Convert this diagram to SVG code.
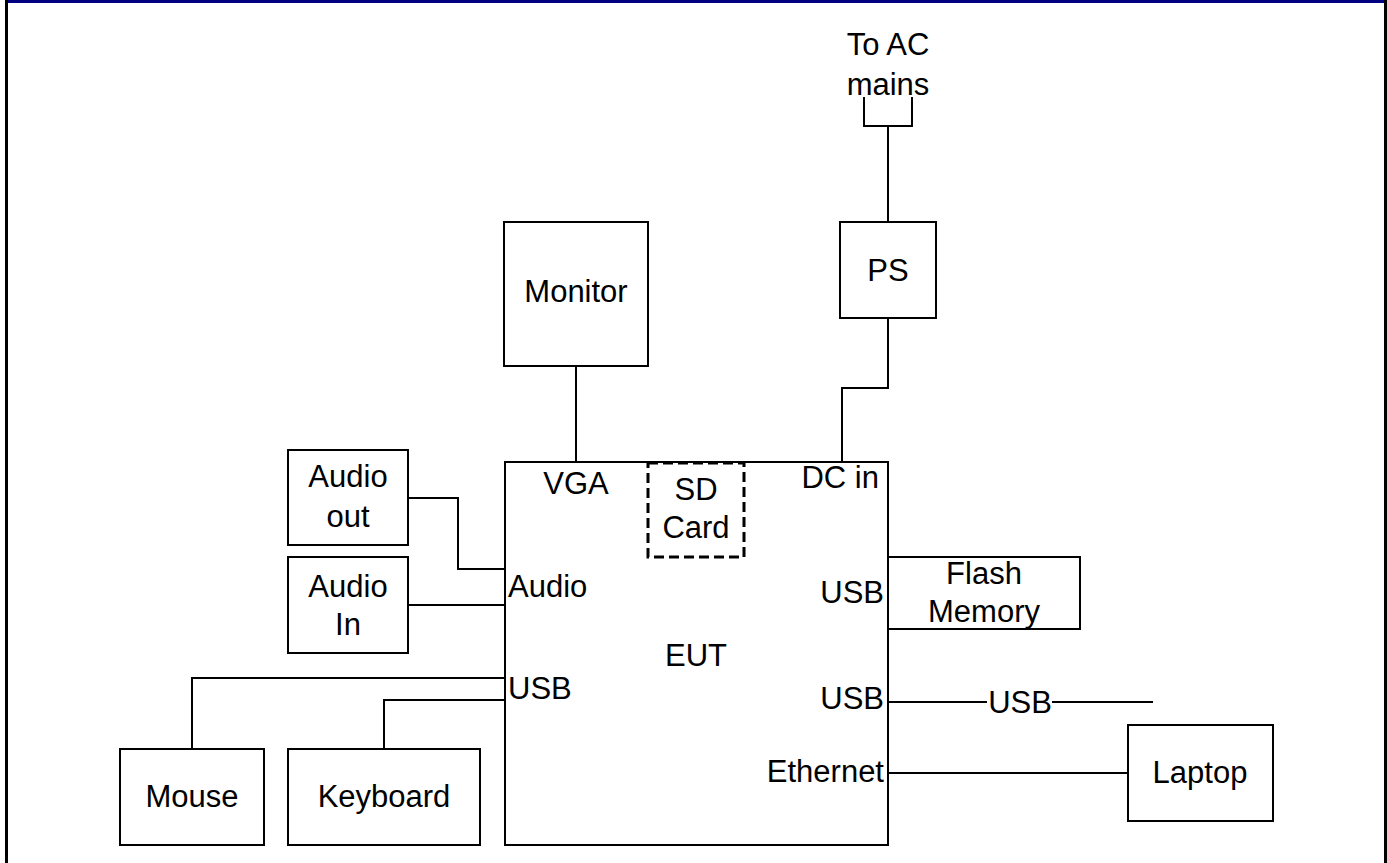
<svg xmlns="http://www.w3.org/2000/svg" width="1387" height="863" viewBox="0 0 1387 863">
<style>
.box{fill:#fff;stroke:#000;stroke-width:2}
.dash{fill:none;stroke:#000;stroke-width:3;stroke-dasharray:10,5}
.wire{fill:none;stroke:#000;stroke-width:2}
text{font-family:"Liberation Sans",Arial,sans-serif;font-size:31px;fill:#000}
.c{text-anchor:middle}
.r{text-anchor:end}
</style>
<rect x="0" y="0" width="1387" height="863" fill="#fff"/>
<g id="frame">
<rect x="5" y="0" width="1382" height="3" fill="#000080"/>
<rect x="5" y="0" width="3" height="863" fill="#000"/>
<rect x="1384" y="0" width="3" height="863" fill="#000"/>
</g>
<g id="connectors">
<path class="wire" d="M864,97 V126 H912 V97 M888,126 V222"/>
<path class="wire" d="M888,318 V388 H842 V462"/>
<path class="wire" d="M576,366 V462"/>
<path class="wire" d="M408,498 H458 V569 H504"/>
<path class="wire" d="M408,605 H504"/>
<path class="wire" d="M192,749 V678 H504"/>
<path class="wire" d="M384,749 V700 H504"/>
<path class="wire" d="M888,702 H987 M1052,702 H1153"/>
<path class="wire" d="M888,773 H1128"/>
<text class="c" x="1020" y="713">USB</text>
</g>
<g id="ac-mains">
<text class="c" x="888" y="55">To AC</text>
<text class="c" x="888" y="95">mains</text>
</g>
<g id="eut">
<rect class="box" x="505" y="462" width="383" height="383"/>
<text class="c" x="576" y="494">VGA</text>
<text class="r" x="879" y="488">DC in</text>
<text x="508" y="597">Audio</text>
<text x="508" y="699">USB</text>
<text class="r" x="884" y="603">USB</text>
<text class="r" x="884" y="709">USB</text>
<text class="r" x="884" y="782">Ethernet</text>
<text class="c" x="696" y="666">EUT</text>
</g>
<g id="sd-card">
<rect class="dash" x="648" y="463" width="96" height="94"/>
<text class="c" x="696" y="500">SD</text>
<text class="c" x="696" y="538">Card</text>
</g>
<g id="monitor">
<rect class="box" x="504" y="222" width="144" height="144"/>
<text class="c" x="576" y="302">Monitor</text>
</g>
<g id="ps">
<rect class="box" x="840" y="222" width="96" height="96"/>
<text class="c" x="888" y="281">PS</text>
</g>
<g id="audio-out">
<rect class="box" x="288" y="450" width="120" height="95"/>
<text class="c" x="348" y="487">Audio</text>
<text class="c" x="348" y="527">out</text>
</g>
<g id="audio-in">
<rect class="box" x="288" y="557" width="120" height="96"/>
<text class="c" x="348" y="597">Audio</text>
<text class="c" x="348" y="635">In</text>
</g>
<g id="mouse">
<rect class="box" x="120" y="749" width="144" height="96"/>
<text class="c" x="192" y="807">Mouse</text>
</g>
<g id="keyboard">
<rect class="box" x="288" y="749" width="192" height="96"/>
<text class="c" x="384" y="807">Keyboard</text>
</g>
<g id="flash-memory">
<rect class="box" x="888" y="557" width="192" height="72"/>
<text class="c" x="984" y="584">Flash</text>
<text class="c" x="984" y="622">Memory</text>
</g>
<g id="laptop">
<rect class="box" x="1128" y="725" width="145" height="96"/>
<text class="c" x="1200" y="783">Laptop</text>
</g>
</svg>
